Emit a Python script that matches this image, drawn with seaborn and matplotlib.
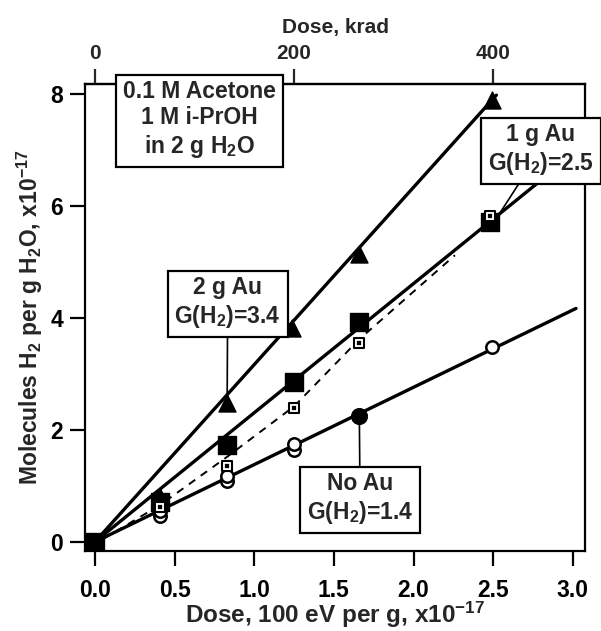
import matplotlib
matplotlib.use("Agg")
import matplotlib.pyplot as plt
import seaborn as sns

# ---- data ----
tri_x = [0.41, 0.83, 1.24, 1.66, 2.49]          # 2 g Au
tri_y = [0.80, 2.48, 3.82, 5.14, 7.90]
sq_x = [0.0, 0.41, 0.83, 1.25, 1.66, 2.48]      # 1 g Au
sq_y = [0.0, 0.72, 1.73, 2.86, 3.93, 5.72]
osq_x = [0.41, 0.83, 1.25, 1.66, 2.48]          # 1 g Au (second run)
osq_y = [0.62, 1.36, 2.39, 3.56, 5.82]
ocirc_x = [0.41, 0.41, 0.83, 0.83, 1.25, 1.25, 2.49]   # No Au
ocirc_y = [0.47, 0.55, 1.08, 1.18, 1.65, 1.75, 3.48]
fcirc_x = [1.66]
fcirc_y = [2.24]

fit2_x, fit2_y = [0.0, 2.52], [0.0, 7.98]
fit1_x, fit1_y = [0.0, 3.00], [0.0, 6.92]
fitd_x = [0.05, 0.41, 0.83, 1.25, 1.66, 2.26]
fitd_y = [0.05, 0.66, 1.52, 2.42, 3.62, 5.12]
fit0_x, fit0_y = [0.0, 3.02], [0.0, 4.17]

x_ticks = [0.0, 0.5, 1.0, 1.5, 2.0, 2.5, 3.0]
y_ticks = [0, 2, 4, 6, 8]
top_ticks = [0, 200, 400]
KRAD_PER_UNIT = 160.2

sns.set_style("ticks")
plt.rcParams['font.family'] = ['Liberation Sans', 'DejaVu Sans']
plt.rcParams['font.weight'] = 'bold'
plt.rcParams['mathtext.fontset'] = 'custom'
plt.rcParams['mathtext.rm'] = 'Liberation Sans:bold'
plt.rcParams['mathtext.it'] = 'Liberation Sans:bold'
plt.rcParams['mathtext.bf'] = 'Liberation Sans:bold'
plt.rcParams['mathtext.default'] = 'rm'

fig = plt.figure(figsize=(6.01, 6.31), dpi=100)
ax = fig.add_axes([0.142, 0.127, 0.831, 0.740])

lw = 2.4
for fx, fy in [(fit2_x, fit2_y), (fit1_x, fit1_y), (fit0_x, fit0_y)]:
    sns.lineplot(x=fx, y=fy, ax=ax, color='black', lw=lw,
                 estimator=None, sort=False)
sns.lineplot(x=fitd_x, y=fitd_y, ax=ax, color='black', lw=1.4,
             linestyle=(0, (4, 3.5)), estimator=None, sort=False)

sns.scatterplot(x=tri_x, y=tri_y, ax=ax, marker='^', s=150, color='black',
                edgecolor='black', zorder=5)
sns.scatterplot(x=sq_x, y=sq_y, ax=ax, marker='s', s=150, color='black',
                edgecolor='black', zorder=5)
sns.scatterplot(x=osq_x, y=osq_y, ax=ax, marker='s', s=50, color='white',
                edgecolor='black', linewidth=1.5, zorder=6)
sns.scatterplot(x=osq_x, y=osq_y, ax=ax, marker='s', s=6, color='black',
                edgecolor='black', zorder=7)
sns.scatterplot(x=ocirc_x, y=ocirc_y, ax=ax, marker='o', s=80, color='white',
                edgecolor='black', linewidth=1.8, zorder=5)
sns.scatterplot(x=fcirc_x, y=fcirc_y, ax=ax, marker='o', s=130, color='black',
                edgecolor='black', zorder=5)

ax.set_xlim(-0.06, 3.075)
ax.set_ylim(-0.16, 8.18)
ax.set_xticks(x_ticks)
ax.set_xticklabels([f"{v:.1f}" for v in x_ticks])
ax.set_yticks(y_ticks)
for s in ax.spines.values():
    s.set_linewidth(1.6)
    s.set_color('black')
    s.set_visible(True)
ax.tick_params(axis='both', direction='out', length=11, width=1.6,
               labelsize=16.5, colors='black', pad=5)
ax.tick_params(axis='x', pad=9)
for lab in ax.get_xticklabels() + ax.get_yticklabels():
    lab.set_fontweight('bold')

ax.set_xlabel("Dose, 100 eV per g, x10$^{-17}$", fontsize=17.5, fontweight='bold', labelpad=-1)
ax.set_ylabel("Molecules H$_2$ per g H$_2$O, x10$^{-17}$", fontsize=16.5,
              fontweight='bold', labelpad=4)

top = ax.secondary_xaxis('top', functions=(lambda x: x * KRAD_PER_UNIT,
                                            lambda k: k / KRAD_PER_UNIT))
top.set_xticks(top_ticks)
top.tick_params(direction='out', length=11, width=1.6, labelsize=15, pad=4)
for lab in top.get_xticklabels():
    lab.set_fontweight('bold')
top.set_xlabel("Dose, krad", fontsize=15, fontweight='bold', labelpad=8)
top.spines['top'].set_linewidth(1.6)

box = dict(boxstyle='square,pad=0.3', facecolor='white', edgecolor='black', lw=1.6)
kw = dict(fontsize=16.5, fontweight='bold', ha='center', va='center',
          linespacing=1.2, zorder=10)

ax.text(0.229, 0.923, "0.1 M Acetone\n1 M i-PrOH\nin 2 g H$_2$O",
        transform=ax.transAxes, bbox=box, **kw)
ax.annotate("2 g Au\nG(H$_2$)=3.4", xy=(tri_x[1], tri_y[1]), xytext=(0.285, 0.531),
            textcoords='axes fraction', bbox=box,
            arrowprops=dict(arrowstyle='-', color='black', lw=1.2, shrinkA=0, shrinkB=0),
            **kw)
ax.annotate("1 g Au\nG(H$_2$)=2.5", xy=(sq_x[-1] + 0.05, sq_y[-1] + 0.1),
            xytext=(0.912, 0.859), textcoords='axes fraction', bbox=box,
            arrowprops=dict(arrowstyle='-', color='black', lw=1.2, shrinkA=0, shrinkB=0),
            annotation_clip=False, **kw)
ax.annotate("No Au\nG(H$_2$)=1.4", xy=(fcirc_x[0], fcirc_y[0]), xytext=(0.550, 0.111),
            textcoords='axes fraction', bbox=box,
            arrowprops=dict(arrowstyle='-', color='black', lw=1.2, shrinkA=0, shrinkB=0),
            **kw)

fig.savefig("out.png", dpi=100)
